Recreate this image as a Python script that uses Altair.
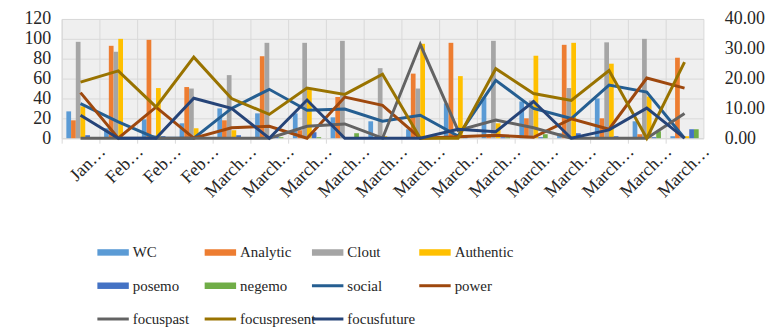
import altair as alt
import pandas as pd

labels = ["Jan…", "Feb…", "Feb…", "Feb…"] + ["March…"] * 13

bar_series = ["WC", "Analytic", "Clout", "Authentic", "posemo", "negemo"]
line_series = ["social", "power", "focuspast", "focuspresent", "focusfuture"]

WC = [27, 10, 19, 15, 30, 25, 25, 21, 17, 9, 35, 41, 37, 5, 40, 17, 2]
Analytic = [18, 93, 99, 51.5, 18, 82.5, 8, 41.5, 0, 65, 96, 3, 20, 94, 20, 4, 81]
Clout = [97, 87, 3, 50, 63.5, 96, 96, 98, 70.5, 50, 3, 98, 38, 50.5, 96.5, 100, 2]
Authentic = [32, 100, 50.5, 10, 8, 0, 50, 0, 2, 95, 62.5, 15, 83, 96, 75, 42, 2]
posemo = [3, 1, 2, 1, 3, 2, 6, 1, 1, 1, 2, 1, 1, 5, 2, 1, 9]
negemo = [1, 0, 0, 0, 1, 1, 1, 5, 0, 0, 0, 1, 4, 1, 1, 7, 9]

social = [11.6, 5.5, 0, 0, 10, 16.4, 9.4, 9.8, 5.7, 7.7, 0.7, 19.4, 10, 6.6, 17.8, 15.5, 0]
power = [15.3, 0, 10.4, 0, 3.5, 4, 0, 13.8, 11, 0, 0.5, 1, 0.3, 6.5, 3, 20.2, 16.8]
focuspast = [0, 0, 0, 0, 0, 0, 4, 4.8, 0, 31.5, 2.6, 6.1, 3.5, 0, 0, 0, 8.3]
focuspresent = [18.8, 22.6, 10.5, 27.2, 13.3, 8, 16.8, 14.7, 21.5, 0, 0, 23.3, 15, 12.7, 22.7, 0, 25.5]
focusfuture = [7.7, 0, 0, 13.4, 10, 0, 12.8, 0, 0, 0, 3, 2.2, 12.3, 0, 2.8, 10.1, 0]

colors = ["#5B9BD5", "#ED7D31", "#A5A5A5", "#FFC000", "#4472C4", "#70AD47",
          "#255E91", "#9E480E", "#636363", "#997300", "#264478"]

bar_values = [WC, Analytic, Clout, Authentic, posemo, negemo]
line_values = [social, power, focuspast, focuspresent, focusfuture]

all_series = bar_series + line_series

bar_df = pd.DataFrame([
    {"idx": i, "series": s, "value": v}
    for s, vals in zip(bar_series, bar_values)
    for i, v in enumerate(vals)
])
line_df = pd.DataFrame([
    {"idx": i, "series": s, "value": v}
    for s, vals in zip(line_series, line_values)
    for i, v in enumerate(vals)
])

AXFONT = "'Liberation Serif', 'Times New Roman', Times, serif"
TXT = "#262626"
label_expr = "[" + ",".join("'" + l + "'" for l in labels) + "][datum.value]"

color_scale = alt.Scale(domain=all_series, range=colors)
x_scale = alt.Scale(domain=list(range(len(labels))), paddingInner=0, paddingOuter=0)
x_axis = alt.Axis(
    title=None, bandPosition=0, grid=True, gridColor="#d9d9d9",
    ticks=True, tickSize=5, tickColor="#d9d9d9", domainColor="#d9d9d9",
    labelExpr=label_expr, labelAngle=-45, labelAlign="right",
    labelBaseline="alphabetic", labelOffset=26, labelPadding=9,
    labelFont=AXFONT, labelFontSize=18, labelColor=TXT, labelOverlap=False,
)

bars = alt.Chart(bar_df).mark_bar().encode(
    x=alt.X("idx:O", scale=x_scale, axis=x_axis),
    xOffset=alt.XOffset("series:N", sort=bar_series,
                        scale=alt.Scale(domain=bar_series, paddingOuter=1, paddingInner=0)),
    y=alt.Y("value:Q", scale=alt.Scale(domain=[0, 120], nice=False),
            axis=alt.Axis(title=None, orient="left", values=list(range(0, 121, 20)),
                          grid=True, gridColor="#d9d9d9", domain=False, ticks=False,
                          labelFont=AXFONT, labelFontSize=18, labelColor=TXT,
                          labelPadding=11, minExtent=53)),
    color=alt.Color("series:N", scale=color_scale, legend=None),
)

lines = alt.Chart(line_df).mark_line(strokeWidth=3).encode(
    x=alt.X("idx:O", scale=x_scale, axis=x_axis),
    y=alt.Y("value:Q", scale=alt.Scale(domain=[0, 40], nice=False),
            axis=alt.Axis(title=None, orient="right", values=[0, 10, 20, 30, 40],
                          format=".2f", grid=False, domain=False, ticks=False,
                          labelFont=AXFONT, labelFontSize=18, labelColor=TXT,
                          labelPadding=21)),
    color=alt.Color("series:N", scale=color_scale, legend=None),
    detail="series:N",
    order=alt.Order("idx:Q"),
)

top = alt.layer(bars, lines).resolve_scale(y="independent").properties(
    width=646, height=120,
    view=alt.ViewBackground(fill="#efefef", stroke="#d9d9d9", strokeWidth=1),
)

# manual legend, 4 columns, row-major
kinds = ["bar"] * len(bar_series) + ["line"] * len(line_series)
leg_df = pd.DataFrame({
    "series": all_series,
    "kind": kinds,
    "col": [i % 4 for i in range(len(all_series))],
    "row": [i // 4 for i in range(len(all_series))],
})
leg_df["x2"] = leg_df["col"] + 0.293
leg_df["tx"] = leg_df["col"] + 0.33

lx = alt.Scale(domain=[-0.333, 3.667])
ly = alt.Scale(domain=[0, 2], reverse=True)

leg_bar = alt.Chart(leg_df).transform_filter("datum.kind == 'bar'").mark_rule(strokeWidth=6.5).encode(
    x=alt.X("col:Q", scale=lx, axis=None),
    x2="x2:Q",
    y=alt.Y("row:Q", scale=ly, axis=None),
    color=alt.Color("series:N", scale=color_scale, legend=None),
)
leg_line = alt.Chart(leg_df).transform_filter("datum.kind == 'line'").mark_rule(strokeWidth=3).encode(
    x=alt.X("col:Q", scale=lx, axis=None),
    x2="x2:Q",
    y=alt.Y("row:Q", scale=ly, axis=None),
    color=alt.Color("series:N", scale=color_scale, legend=None),
)
leg_text = alt.Chart(leg_df).mark_text(align="left", baseline="middle", font=AXFONT,
                                       fontSize=15, color=TXT).encode(
    x=alt.X("tx:Q", scale=lx, axis=None),
    y=alt.Y("row:Q", scale=ly, axis=None),
    text="series:N",
)
legend = alt.layer(leg_bar, leg_line, leg_text).properties(
    width=432, height=67,
    view=alt.ViewBackground(strokeWidth=0),
)

chart = alt.vconcat(top, legend, spacing=44).properties(
    padding={"left": 0, "top": 0, "right": 0, "bottom": 0}
).configure_view(strokeWidth=0)

chart.save("out.html", embed_options={"renderer": "svg", "actions": False})
